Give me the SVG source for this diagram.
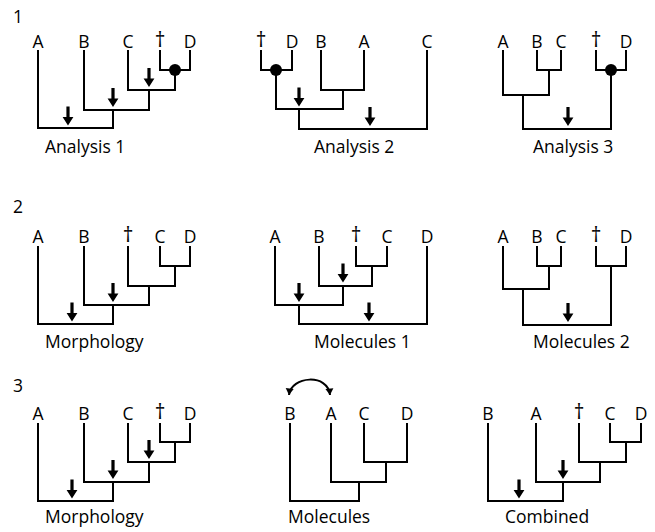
<svg xmlns="http://www.w3.org/2000/svg" xmlns:xlink="http://www.w3.org/1999/xlink" width="655" height="532" viewBox="0 0 655 532">
<style>
text{font-family:"Open Sans","Liberation Sans",sans-serif;font-size:17.5px;fill:#000}
.t{text-anchor:middle}
.dg{font-size:21px;text-anchor:middle}
.br{fill:none;stroke:#000;stroke-width:2;stroke-linejoin:miter;stroke-linecap:butt}
.dot{fill:#000}
</style>
<defs>
<path id="arr" d="M-1.6,-19 h3.2 v10.5 h3.8 l-5.4,8.5 l-5.4,-8.5 h3.8 z" fill="#000"/>
<marker id="mh" viewBox="-7 -5 8 10" refX="0" refY="0" markerWidth="8" markerHeight="10" markerUnits="userSpaceOnUse" orient="auto-start-reverse">
<path d="M0,0 L-6.5,-4 L-6.5,4 Z" fill="#000"/>
</marker>
</defs>
<rect width="655" height="532" fill="#fff"/>

<g id="row-numbers">
<text x="13" y="23">1</text>
<text x="13" y="213">2</text>
<text x="13" y="392">3</text>
</g>

<!-- Row 1 -->
<g id="analysis1">
<g id="a1-labels">
<text class="t" x="38" y="48">A</text>
<text class="t" x="84" y="48">B</text>
<text class="t" x="128" y="48">C</text>
<text class="dg" x="160" y="47">†</text>
<text class="t" x="190" y="48">D</text>
<text x="45" y="153">Analysis 1</text>
</g>
<g id="a1-connectors">
<path class="br" d="M38,50 V128 H113 V110 M84,50 V110 H149 V90 M128,50 V90 H175 V70 M160,50 V70 H190 V50"/>
<circle class="dot" cx="175" cy="70" r="6"/>
<use xlink:href="#arr" x="68" y="125.5"/>
<use xlink:href="#arr" x="113" y="107"/>
<use xlink:href="#arr" x="149" y="87"/>
</g>
</g>

<g id="analysis2">
<g id="a2-labels">
<text class="dg" x="261" y="47">†</text>
<text class="t" x="292" y="48">D</text>
<text class="t" x="321" y="48">B</text>
<text class="t" x="364" y="48">A</text>
<text class="t" x="427" y="48">C</text>
<text x="314" y="153">Analysis 2</text>
</g>
<g id="a2-connectors">
<path class="br" d="M261,50 V70 H292 V50 M276,70 V109 H343 V90 M321,50 V90 H364 V50 M299,109 V129 H427 V50"/>
<circle class="dot" cx="276" cy="70" r="6"/>
<use xlink:href="#arr" x="299" y="106.5"/>
<use xlink:href="#arr" x="370" y="126"/>
</g>
</g>

<g id="analysis3">
<g id="a3-labels">
<text class="t" x="503" y="48">A</text>
<text class="t" x="537" y="48">B</text>
<text class="t" x="561" y="48">C</text>
<text class="dg" x="596" y="47">†</text>
<text class="t" x="626" y="48">D</text>
<text x="533" y="153">Analysis 3</text>
</g>
<g id="a3-connectors">
<path class="br" d="M537,50 V70 H561 V50 M503,50 V95 H549 V70 M523,95 V129 H611 V70 M596,50 V70 H626 V50"/>
<circle class="dot" cx="611" cy="70" r="6"/>
<use xlink:href="#arr" x="568" y="126"/>
</g>
</g>

<!-- Row 2 -->
<g id="morphology2">
<g id="m2-labels">
<text class="t" x="38" y="243">A</text>
<text class="t" x="84" y="243">B</text>
<text class="dg" x="128" y="242">†</text>
<text class="t" x="160" y="243">C</text>
<text class="t" x="190" y="243">D</text>
<text x="45" y="348">Morphology</text>
</g>
<g id="m2-connectors">
<path class="br" d="M38,246 V324 H113 V305 M84,246 V305 H149 V286 M128,246 V286 H175 V266 M160,246 V266 H190 V246"/>
<use xlink:href="#arr" x="72" y="321.5"/>
<use xlink:href="#arr" x="113" y="302"/>
</g>
</g>

<g id="molecules1">
<g id="mo1-labels">
<text class="t" x="275" y="243">A</text>
<text class="t" x="319" y="243">B</text>
<text class="dg" x="356" y="242">†</text>
<text class="t" x="387" y="243">C</text>
<text class="t" x="427" y="243">D</text>
<text x="314" y="348">Molecules 1</text>
</g>
<g id="mo1-connectors">
<path class="br" d="M356,246 V266 H387 V246 M319,246 V286 H372 V266 M275,246 V305 H343 V286 M299,305 V324 H427 V246"/>
<use xlink:href="#arr" x="343" y="282.5"/>
<use xlink:href="#arr" x="299" y="302"/>
<use xlink:href="#arr" x="369" y="321.5"/>
</g>
</g>

<g id="molecules2">
<g id="mo2-labels">
<text class="t" x="503" y="243">A</text>
<text class="t" x="537" y="243">B</text>
<text class="t" x="561" y="243">C</text>
<text class="dg" x="596" y="242">†</text>
<text class="t" x="626" y="243">D</text>
<text x="533" y="348">Molecules 2</text>
</g>
<g id="mo2-connectors">
<path class="br" d="M537,246 V266 H561 V246 M503,246 V289 H549 V266 M523,289 V325 H611 V266 M596,246 V266 H626 V246"/>
<use xlink:href="#arr" x="568" y="322"/>
</g>
</g>

<!-- Row 3 -->
<g id="morphology3">
<g id="m3-labels">
<text class="t" x="38" y="420">A</text>
<text class="t" x="84" y="420">B</text>
<text class="t" x="128" y="420">C</text>
<text class="dg" x="160" y="419">†</text>
<text class="t" x="190" y="420">D</text>
<text x="45" y="523">Morphology</text>
</g>
<g id="m3-connectors">
<path class="br" d="M38,423 V501 H113 V482 M84,423 V482 H149 V462 M128,423 V462 H175 V442 M160,423 V442 H190 V423"/>
<use xlink:href="#arr" x="72" y="498.5"/>
<use xlink:href="#arr" x="113" y="479"/>
<use xlink:href="#arr" x="149" y="459"/>
</g>
</g>

<g id="molecules3">
<g id="mo3-labels">
<text class="t" x="290" y="420">B</text>
<text class="t" x="331" y="420">A</text>
<text class="t" x="364" y="420">C</text>
<text class="t" x="407" y="420">D</text>
<text x="288" y="523">Molecules</text>
</g>
<g id="mo3-connectors">
<path class="br" d="M364,423 V462 H407 V423 M331,423 V482 H386 V462 M290,423 V501 H359 V482"/>
<path class="br" d="M289,395 C291,376 328,373 330,395" marker-start="url(#mh)" marker-end="url(#mh)"/>
</g>
</g>

<g id="combined">
<g id="c-labels">
<text class="t" x="488" y="420">B</text>
<text class="t" x="536" y="420">A</text>
<text class="dg" x="579" y="419">†</text>
<text class="t" x="610" y="420">C</text>
<text class="t" x="641" y="420">D</text>
<text x="505" y="523">Combined</text>
</g>
<g id="c-connectors">
<path class="br" d="M610,423 V442 H641 V423 M579,423 V462 H626 V442 M536,423 V482 H600 V462 M488,423 V501 H563 V482"/>
<use xlink:href="#arr" x="563" y="479"/>
<use xlink:href="#arr" x="519" y="498.5"/>
</g>
</g>
</svg>
